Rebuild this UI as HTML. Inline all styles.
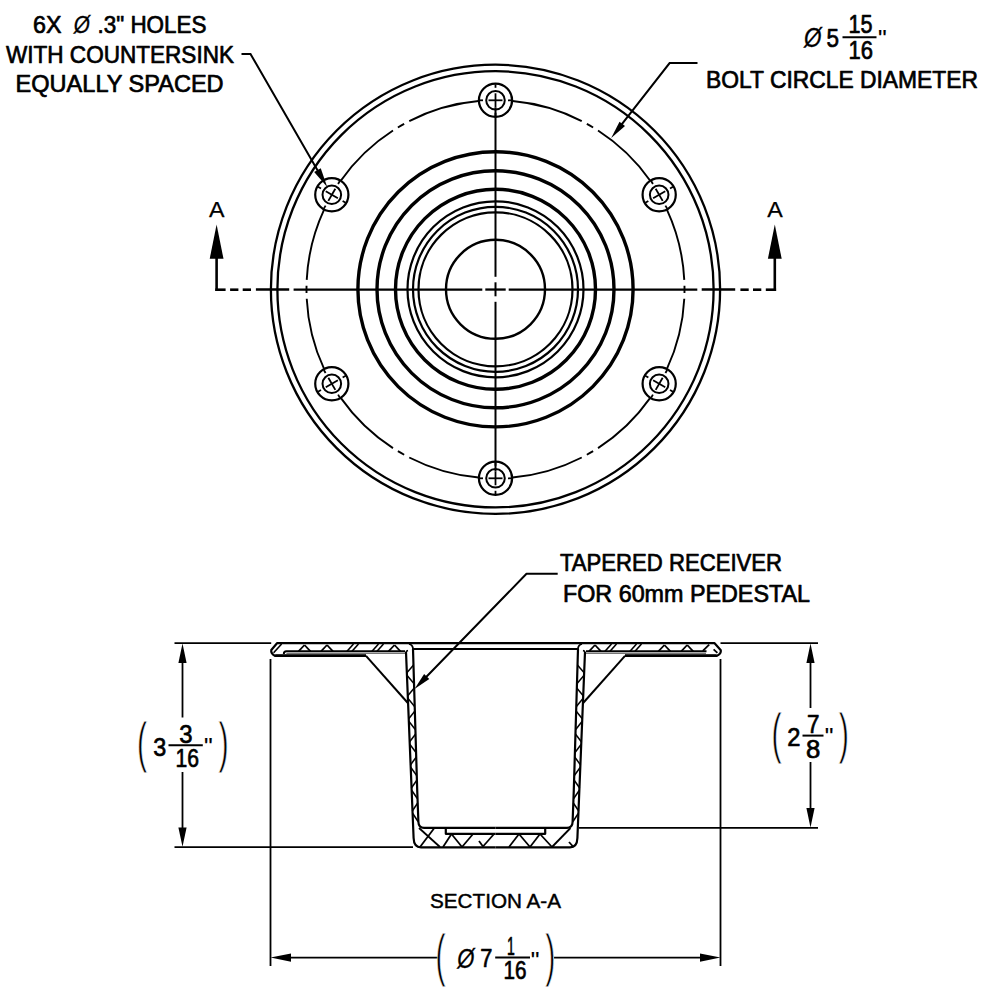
<!DOCTYPE html>
<html><head><meta charset="utf-8"><title>Section drawing</title>
<style>html,body{margin:0;padding:0;background:#fff}svg{display:block}text{font-family:"Liberation Sans",sans-serif}</style>
</head><body>
<svg width="1000" height="1000" viewBox="0 0 1000 1000">
<rect width="1000" height="1000" fill="#fff"/>
<g fill="none" stroke="#000">
<circle cx="495.50" cy="289.30" r="224.60" stroke-width="2.3" />
<circle cx="495.50" cy="289.30" r="218.10" stroke-width="2.3" />
<circle cx="495.50" cy="289.30" r="137.60" stroke-width="3.4" />
<circle cx="495.50" cy="289.30" r="118.50" stroke-width="3.4" />
<circle cx="495.50" cy="289.30" r="100.00" stroke-width="3.4" />
<circle cx="495.50" cy="289.30" r="88.00" stroke-width="2.2" />
<circle cx="495.50" cy="289.30" r="82.50" stroke-width="2.2" />
<circle cx="495.50" cy="289.30" r="77.00" stroke-width="2.2" />
<circle cx="495.50" cy="289.30" r="49.50" stroke-width="2.4" />
<path d="M650.03,180.48 A189,189 0 0 0 598.02,130.52" stroke-width="1.9" />
<path d="M593.12,127.47 A189,189 0 0 0 586.84,123.84" stroke-width="1.9" />
<path d="M581.74,121.12 A189,189 0 0 0 512.48,101.06" stroke-width="1.9" />
<path d="M478.52,101.06 A189,189 0 0 0 409.26,121.12" stroke-width="1.9" />
<path d="M404.16,123.84 A189,189 0 0 0 397.88,127.47" stroke-width="1.9" />
<path d="M392.98,130.52 A189,189 0 0 0 340.97,180.48" stroke-width="1.9" />
<path d="M323.99,209.88 A189,189 0 0 0 306.73,279.90" stroke-width="1.9" />
<path d="M306.53,285.67 A189,189 0 0 0 306.53,292.93" stroke-width="1.9" />
<path d="M306.73,298.70 A189,189 0 0 0 323.99,368.72" stroke-width="1.9" />
<path d="M340.97,398.12 A189,189 0 0 0 392.98,448.08" stroke-width="1.9" />
<path d="M397.88,451.13 A189,189 0 0 0 404.16,454.76" stroke-width="1.9" />
<path d="M409.26,457.48 A189,189 0 0 0 478.52,477.54" stroke-width="1.9" />
<path d="M512.48,477.54 A189,189 0 0 0 581.74,457.48" stroke-width="1.9" />
<path d="M586.84,454.76 A189,189 0 0 0 593.12,451.13" stroke-width="1.9" />
<path d="M598.02,448.08 A189,189 0 0 0 650.03,398.12" stroke-width="1.9" />
<path d="M667.01,368.72 A189,189 0 0 0 684.27,298.70" stroke-width="1.9" />
<path d="M684.47,292.93 A189,189 0 0 0 684.47,285.67" stroke-width="1.9" />
<path d="M684.27,279.90 A189,189 0 0 0 667.01,209.88" stroke-width="1.9" />
<circle cx="659.18" cy="194.80" r="16.60" stroke-width="2.2" />
<circle cx="659.18" cy="194.80" r="9.30" stroke-width="2.0" />
<line x1="653.12" y1="198.30" x2="665.24" y2="191.30" stroke-width="1.8" />
<line x1="670.00" y1="188.55" x2="673.04" y2="186.80" stroke-width="1.8" />
<line x1="648.35" y1="201.05" x2="645.32" y2="202.80" stroke-width="1.8" />
<line x1="655.68" y1="188.74" x2="662.68" y2="200.86" stroke-width="1.8" />
<line x1="665.43" y1="205.63" x2="667.18" y2="208.66" stroke-width="1.8" />
<line x1="652.93" y1="183.97" x2="651.18" y2="180.94" stroke-width="1.8" />
<circle cx="495.50" cy="100.30" r="16.60" stroke-width="2.2" />
<circle cx="495.50" cy="100.30" r="9.30" stroke-width="2.0" />
<line x1="495.50" y1="107.30" x2="495.50" y2="93.30" stroke-width="1.8" />
<line x1="495.50" y1="87.80" x2="495.50" y2="84.30" stroke-width="1.8" />
<line x1="495.50" y1="112.80" x2="495.50" y2="116.30" stroke-width="1.8" />
<line x1="488.50" y1="100.30" x2="502.50" y2="100.30" stroke-width="1.8" />
<line x1="508.00" y1="100.30" x2="511.50" y2="100.30" stroke-width="1.8" />
<line x1="483.00" y1="100.30" x2="479.50" y2="100.30" stroke-width="1.8" />
<circle cx="331.82" cy="194.80" r="16.60" stroke-width="2.2" />
<circle cx="331.82" cy="194.80" r="9.30" stroke-width="2.0" />
<line x1="337.88" y1="198.30" x2="325.76" y2="191.30" stroke-width="1.8" />
<line x1="321.00" y1="188.55" x2="317.96" y2="186.80" stroke-width="1.8" />
<line x1="342.65" y1="201.05" x2="345.68" y2="202.80" stroke-width="1.8" />
<line x1="328.32" y1="200.86" x2="335.32" y2="188.74" stroke-width="1.8" />
<line x1="338.07" y1="183.97" x2="339.82" y2="180.94" stroke-width="1.8" />
<line x1="325.57" y1="205.63" x2="323.82" y2="208.66" stroke-width="1.8" />
<circle cx="331.82" cy="383.80" r="16.60" stroke-width="2.2" />
<circle cx="331.82" cy="383.80" r="9.30" stroke-width="2.0" />
<line x1="337.88" y1="380.30" x2="325.76" y2="387.30" stroke-width="1.8" />
<line x1="321.00" y1="390.05" x2="317.96" y2="391.80" stroke-width="1.8" />
<line x1="342.65" y1="377.55" x2="345.68" y2="375.80" stroke-width="1.8" />
<line x1="335.32" y1="389.86" x2="328.32" y2="377.74" stroke-width="1.8" />
<line x1="325.57" y1="372.97" x2="323.82" y2="369.94" stroke-width="1.8" />
<line x1="338.07" y1="394.63" x2="339.82" y2="397.66" stroke-width="1.8" />
<circle cx="495.50" cy="478.30" r="16.60" stroke-width="2.2" />
<circle cx="495.50" cy="478.30" r="9.30" stroke-width="2.0" />
<line x1="495.50" y1="471.30" x2="495.50" y2="485.30" stroke-width="1.8" />
<line x1="495.50" y1="490.80" x2="495.50" y2="494.30" stroke-width="1.8" />
<line x1="495.50" y1="465.80" x2="495.50" y2="462.30" stroke-width="1.8" />
<line x1="502.50" y1="478.30" x2="488.50" y2="478.30" stroke-width="1.8" />
<line x1="483.00" y1="478.30" x2="479.50" y2="478.30" stroke-width="1.8" />
<line x1="508.00" y1="478.30" x2="511.50" y2="478.30" stroke-width="1.8" />
<circle cx="659.18" cy="383.80" r="16.60" stroke-width="2.2" />
<circle cx="659.18" cy="383.80" r="9.30" stroke-width="2.0" />
<line x1="653.12" y1="380.30" x2="665.24" y2="387.30" stroke-width="1.8" />
<line x1="670.00" y1="390.05" x2="673.04" y2="391.80" stroke-width="1.8" />
<line x1="648.35" y1="377.55" x2="645.32" y2="375.80" stroke-width="1.8" />
<line x1="662.68" y1="377.74" x2="655.68" y2="389.86" stroke-width="1.8" />
<line x1="652.93" y1="394.63" x2="651.18" y2="397.66" stroke-width="1.8" />
<line x1="665.43" y1="372.97" x2="667.18" y2="369.94" stroke-width="1.8" />
<line x1="255.90" y1="289.55" x2="289.20" y2="289.55" stroke-width="2.6" />
<line x1="293.60" y1="289.55" x2="482.30" y2="289.55" stroke-width="2.3" />
<line x1="485.30" y1="289.55" x2="505.70" y2="289.55" stroke-width="2.3" />
<line x1="508.70" y1="289.55" x2="697.30" y2="289.55" stroke-width="2.3" />
<line x1="701.70" y1="289.55" x2="735.20" y2="289.55" stroke-width="2.6" />
<line x1="495.50" y1="107.30" x2="495.50" y2="276.80" stroke-width="2.0" />
<line x1="495.50" y1="282.30" x2="495.50" y2="296.30" stroke-width="2.0" />
<line x1="495.50" y1="301.80" x2="495.50" y2="471.30" stroke-width="2.0" />
<line x1="216.60" y1="291.00" x2="216.60" y2="250.00" stroke-width="2.6" />
<line x1="215.30" y1="289.70" x2="225.60" y2="289.70" stroke-width="2.6" />
<line x1="230.10" y1="289.70" x2="238.40" y2="289.70" stroke-width="2.6" />
<line x1="242.70" y1="289.70" x2="251.00" y2="289.70" stroke-width="2.6" />
<polygon points="216.60,224.50 209.70,258.80 223.50,258.80" fill="#000" stroke="none" />
<line x1="774.80" y1="291.00" x2="774.80" y2="250.00" stroke-width="2.6" />
<line x1="776.10" y1="289.70" x2="765.80" y2="289.70" stroke-width="2.6" />
<line x1="761.30" y1="289.70" x2="753.00" y2="289.70" stroke-width="2.6" />
<line x1="748.70" y1="289.70" x2="740.40" y2="289.70" stroke-width="2.6" />
<polygon points="774.80,224.50 767.90,258.80 781.70,258.80" fill="#000" stroke="none" />
</g>
<g fill="none" stroke="#000">
<path d="M241.5,54 L250.5,54 L322.7,179.206" stroke-width="2.0" />
<polygon points="327.20,187.00 314.17,172.00 320.76,168.21" fill="#000" stroke="none" />
<path d="M697.5,63.1 L669.6,63.1 L616.60,130.98" stroke-width="2.0" />
<polygon points="611.20,138.00 619.51,121.65 625.03,125.96" fill="#000" stroke="none" />
</g>
<g fill="none" stroke="#000" stroke-linejoin="round">
<path d="M413,643.2 L277,643.2 L271.3,650 Q270.6,653.6 275.2,655.9 L366,655.9" stroke-width="2.2" />
<line x1="275.20" y1="655.60" x2="366.00" y2="655.60" stroke-width="2.9" />
<line x1="281.60" y1="644.00" x2="273.60" y2="652.80" stroke-width="1.6" />
<path d="M283.8,654 Q283.8,651.2 286.4,651.2 L405,651.2" stroke-width="1.9" />
<line x1="286.40" y1="653.40" x2="405.00" y2="653.40" stroke-width="1.2" stroke="#777"/>
<line x1="366.00" y1="655.80" x2="408.30" y2="703.50" stroke-width="2.0" />
<path d="M406.00,652 L413.60,838 Q413.90,847.3 421.00,847.3 L495.5,847.3" stroke-width="2.2" />
<path d="M413.00,649 L417.20,790 L418.40,822 Q418.60,827.8 424.00,827.8 L495.5,827.8" stroke-width="2.2" />
<path d="M406.00,652 Q406.30,651 408.00,650.5" stroke-width="1.6" />
<path d="M409.00,644 Q413.00,645 413.00,649" stroke-width="1.8" />
<path d="M445.80,827.8 L445.80,833.8 L495.5,833.8" stroke-width="2.2" />
<line x1="270.50" y1="659.00" x2="270.50" y2="966.00" stroke-width="1.8" />
<path d="M578,643.2 L714.6,643.2 L720.8,650.2 Q721.4,653.8 716.6,655.9 L625,655.9" stroke-width="2.2" />
<line x1="716.60" y1="655.60" x2="625.00" y2="655.60" stroke-width="2.9" />
<line x1="713.60" y1="649.40" x2="717.40" y2="652.80" stroke-width="1.8" />
<line x1="586.00" y1="651.20" x2="706.50" y2="651.20" stroke-width="1.9" />
<line x1="586.00" y1="653.40" x2="706.00" y2="653.40" stroke-width="1.2" stroke="#777"/>
<line x1="702.80" y1="650.80" x2="709.20" y2="644.60" stroke-width="1.8" />
<line x1="625.00" y1="655.80" x2="582.70" y2="703.50" stroke-width="2.0" />
<path d="M585.00,652 L577.40,838 Q577.10,847.3 570.00,847.3 L495.5,847.3" stroke-width="2.2" />
<path d="M578.00,649 L573.80,790 L572.60,822 Q572.40,827.8 567.00,827.8 L495.5,827.8" stroke-width="2.2" />
<path d="M585.00,652 Q584.70,651 583.00,650.5" stroke-width="1.6" />
<path d="M582.00,644 Q578.00,645 578.00,649" stroke-width="1.8" />
<path d="M545.20,827.8 L545.20,833.8 L495.5,833.8" stroke-width="2.2" />
<line x1="720.50" y1="659.00" x2="720.50" y2="966.00" stroke-width="1.8" />
<line x1="413.00" y1="643.20" x2="578.00" y2="643.20" stroke-width="2.2" />
<line x1="413.00" y1="649.00" x2="578.00" y2="649.00" stroke-width="2.0" />
<line x1="298.50" y1="651.30" x2="304.50" y2="645.00" stroke-width="1.8" />
<line x1="304.50" y1="645.00" x2="310.50" y2="651.30" stroke-width="1.8" />
<line x1="321.00" y1="651.30" x2="327.00" y2="645.00" stroke-width="1.8" />
<line x1="327.00" y1="645.00" x2="333.00" y2="651.30" stroke-width="1.8" />
<line x1="388.50" y1="651.30" x2="394.50" y2="645.00" stroke-width="1.8" />
<line x1="394.50" y1="645.00" x2="400.50" y2="651.30" stroke-width="1.8" />
<line x1="347.00" y1="651.30" x2="353.50" y2="644.00" stroke-width="1.6" />
<line x1="352.00" y1="651.30" x2="358.50" y2="644.00" stroke-width="1.6" />
<line x1="372.00" y1="651.30" x2="378.50" y2="644.00" stroke-width="1.6" />
<line x1="377.00" y1="651.30" x2="383.50" y2="644.00" stroke-width="1.6" />
<line x1="681.20" y1="651.30" x2="687.20" y2="645.00" stroke-width="1.8" />
<line x1="687.20" y1="645.00" x2="693.20" y2="651.30" stroke-width="1.8" />
<line x1="658.40" y1="651.30" x2="664.40" y2="645.00" stroke-width="1.8" />
<line x1="664.40" y1="645.00" x2="670.40" y2="651.30" stroke-width="1.8" />
<line x1="589.00" y1="651.30" x2="595.00" y2="645.00" stroke-width="1.8" />
<line x1="595.00" y1="645.00" x2="601.00" y2="651.30" stroke-width="1.8" />
<line x1="635.00" y1="651.30" x2="641.50" y2="644.00" stroke-width="1.6" />
<line x1="630.00" y1="651.30" x2="636.50" y2="644.00" stroke-width="1.6" />
<line x1="610.00" y1="651.30" x2="616.50" y2="644.00" stroke-width="1.6" />
<line x1="605.00" y1="651.30" x2="611.50" y2="644.00" stroke-width="1.6" />
<line x1="406.65" y1="673.00" x2="413.57" y2="665.00" stroke-width="1.5" />
<line x1="407.12" y1="675.50" x2="413.91" y2="683.50" stroke-width="1.5" />
<line x1="407.59" y1="696.00" x2="414.25" y2="688.00" stroke-width="1.5" />
<line x1="408.06" y1="698.50" x2="414.59" y2="706.50" stroke-width="1.5" />
<line x1="408.53" y1="719.00" x2="414.94" y2="711.00" stroke-width="1.5" />
<line x1="409.00" y1="721.50" x2="415.28" y2="729.50" stroke-width="1.5" />
<line x1="409.47" y1="742.00" x2="415.62" y2="734.00" stroke-width="1.5" />
<line x1="409.94" y1="744.50" x2="415.96" y2="752.50" stroke-width="1.5" />
<line x1="410.41" y1="765.00" x2="416.31" y2="757.00" stroke-width="1.5" />
<line x1="410.88" y1="767.50" x2="416.65" y2="775.50" stroke-width="1.5" />
<line x1="411.35" y1="788.00" x2="416.99" y2="780.00" stroke-width="1.5" />
<line x1="411.82" y1="790.50" x2="417.33" y2="798.50" stroke-width="1.5" />
<line x1="412.29" y1="811.00" x2="417.68" y2="803.00" stroke-width="1.5" />
<line x1="412.76" y1="813.50" x2="418.02" y2="821.50" stroke-width="1.5" />
<line x1="584.35" y1="673.00" x2="577.43" y2="665.00" stroke-width="1.5" />
<line x1="583.88" y1="675.50" x2="577.09" y2="683.50" stroke-width="1.5" />
<line x1="583.41" y1="696.00" x2="576.75" y2="688.00" stroke-width="1.5" />
<line x1="582.94" y1="698.50" x2="576.41" y2="706.50" stroke-width="1.5" />
<line x1="582.47" y1="719.00" x2="576.06" y2="711.00" stroke-width="1.5" />
<line x1="582.00" y1="721.50" x2="575.72" y2="729.50" stroke-width="1.5" />
<line x1="581.53" y1="742.00" x2="575.38" y2="734.00" stroke-width="1.5" />
<line x1="581.06" y1="744.50" x2="575.04" y2="752.50" stroke-width="1.5" />
<line x1="580.59" y1="765.00" x2="574.69" y2="757.00" stroke-width="1.5" />
<line x1="580.12" y1="767.50" x2="574.35" y2="775.50" stroke-width="1.5" />
<line x1="579.65" y1="788.00" x2="574.01" y2="780.00" stroke-width="1.5" />
<line x1="579.18" y1="790.50" x2="573.67" y2="798.50" stroke-width="1.5" />
<line x1="578.71" y1="811.00" x2="573.32" y2="803.00" stroke-width="1.5" />
<line x1="578.24" y1="813.50" x2="572.98" y2="821.50" stroke-width="1.5" />
<line x1="419.00" y1="828.00" x2="440.00" y2="847.00" stroke-width="1.8" />
<line x1="420.00" y1="847.00" x2="434.00" y2="828.50" stroke-width="1.8" />
<line x1="443.00" y1="847.00" x2="451.50" y2="834.00" stroke-width="1.8" />
<line x1="451.50" y1="834.00" x2="462.00" y2="847.00" stroke-width="1.8" />
<line x1="462.00" y1="847.00" x2="473.00" y2="834.00" stroke-width="1.8" />
<line x1="479.00" y1="841.00" x2="483.00" y2="846.50" stroke-width="1.8" />
<line x1="483.00" y1="846.50" x2="494.00" y2="834.00" stroke-width="1.8" />
<line x1="509.00" y1="847.00" x2="519.00" y2="834.00" stroke-width="1.8" />
<line x1="519.00" y1="834.00" x2="530.00" y2="847.00" stroke-width="1.8" />
<line x1="530.00" y1="847.00" x2="540.00" y2="834.00" stroke-width="1.8" />
<line x1="540.00" y1="834.00" x2="552.00" y2="847.00" stroke-width="1.8" />
<line x1="552.00" y1="847.00" x2="570.50" y2="828.00" stroke-width="1.8" />
<line x1="569.00" y1="842.00" x2="573.00" y2="846.50" stroke-width="1.8" />
<line x1="174.50" y1="643.20" x2="271.20" y2="643.20" stroke-width="1.8" />
<line x1="174.50" y1="847.20" x2="413.00" y2="847.20" stroke-width="1.8" />
<line x1="182.50" y1="650.00" x2="182.50" y2="717.50" stroke-width="1.8" />
<line x1="182.50" y1="772.00" x2="182.50" y2="840.00" stroke-width="1.8" />
<line x1="720.50" y1="643.20" x2="818.00" y2="643.20" stroke-width="1.8" />
<line x1="579.00" y1="827.80" x2="818.00" y2="827.80" stroke-width="1.8" />
<line x1="810.50" y1="650.00" x2="810.50" y2="708.00" stroke-width="1.8" />
<line x1="810.50" y1="762.00" x2="810.50" y2="820.00" stroke-width="1.8" />
<line x1="285.00" y1="957.60" x2="438.00" y2="957.60" stroke-width="1.8" />
<line x1="554.00" y1="957.60" x2="706.00" y2="957.60" stroke-width="1.8" />
<line x1="168.50" y1="745.20" x2="202.80" y2="745.20" stroke-width="2.0" />
<line x1="802.50" y1="735.60" x2="823.50" y2="735.60" stroke-width="2.0" />
<line x1="495.20" y1="957.60" x2="530.00" y2="957.60" stroke-width="2.0" />
<line x1="842.50" y1="37.30" x2="876.50" y2="37.30" stroke-width="2.1" />
<path d="M557.7,573.8 L526.5,573.8 L420.10,683.28" stroke-width="2.0" />
</g>
<g stroke="none" fill="#000">
</g>
<polygon points="182.50,643.60 186.60,662.90 178.40,662.90" fill="#000" stroke="none" />
<polygon points="182.50,846.80 178.40,827.50 186.60,827.50" fill="#000" stroke="none" />
<polygon points="810.50,643.60 814.60,662.90 806.40,662.90" fill="#000" stroke="none" />
<polygon points="810.50,827.40 806.40,808.10 814.60,808.10" fill="#000" stroke="none" />
<polygon points="270.50,957.60 291.00,953.40 291.00,961.80" fill="#000" stroke="none" />
<polygon points="720.50,957.60 700.00,961.80 700.00,953.40" fill="#000" stroke="none" />
<polygon points="414.50,689.00 424.12,673.94 429.28,678.96" fill="#000" stroke="none" />
<g fill="#000" stroke="#000" stroke-width="0.7" stroke-linejoin="round">
<text x="33" y="33.3" font-size="24" text-anchor="start" textLength="28.5" lengthAdjust="spacingAndGlyphs" >6X</text>
<text x="97.5" y="33.3" font-size="24" text-anchor="start" textLength="109" lengthAdjust="spacingAndGlyphs" >.3" HOLES</text>
<text x="6" y="63.3" font-size="24" text-anchor="start" textLength="228" lengthAdjust="spacingAndGlyphs" >WITH COUNTERSINK</text>
<text x="15.6" y="92" font-size="24" text-anchor="start" textLength="208" lengthAdjust="spacingAndGlyphs" >EQUALLY SPACED</text>
<text x="706" y="88" font-size="24" text-anchor="start" textLength="272" lengthAdjust="spacingAndGlyphs" >BOLT CIRCLE DIAMETER</text>
<text x="560" y="571.3" font-size="24" text-anchor="start" textLength="222" lengthAdjust="spacingAndGlyphs" >TAPERED RECEIVER</text>
<text x="563" y="601.6" font-size="24" text-anchor="start" textLength="247" lengthAdjust="spacingAndGlyphs" >FOR 60mm PEDESTAL</text>
<text x="430" y="908.2" font-size="21" text-anchor="start" textLength="131" lengthAdjust="spacingAndGlyphs" stroke-width="0.45">SECTION A-A</text>
<text x="209" y="217" font-size="21.5" text-anchor="start" textLength="15.5" lengthAdjust="spacingAndGlyphs" stroke-width="0.25">A</text>
<text x="767.2" y="217" font-size="21.5" text-anchor="start" textLength="15.5" lengthAdjust="spacingAndGlyphs" stroke-width="0.25">A</text>
<text x="826.5" y="47" font-size="26" text-anchor="start" textLength="12.5" lengthAdjust="spacingAndGlyphs" >5</text>
<text x="848.5" y="33.4" font-size="25.5" text-anchor="start" textLength="24" lengthAdjust="spacingAndGlyphs" >15</text>
<text x="848.5" y="58.6" font-size="25.5" text-anchor="start" textLength="24.5" lengthAdjust="spacingAndGlyphs" >16</text>
<text x="153.3" y="756" font-size="26" text-anchor="start" textLength="13" lengthAdjust="spacingAndGlyphs" >3</text>
<text x="179.3" y="742.6" font-size="25.5" text-anchor="start" textLength="13.3" lengthAdjust="spacingAndGlyphs" >3</text>
<text x="175.5" y="766.8" font-size="25.5" text-anchor="start" textLength="23.5" lengthAdjust="spacingAndGlyphs" >16</text>
<text x="787.3" y="746" font-size="26" text-anchor="start" textLength="13.2" lengthAdjust="spacingAndGlyphs" >2</text>
<text x="807" y="732.5" font-size="25.5" text-anchor="start" textLength="12.5" lengthAdjust="spacingAndGlyphs" >7</text>
<text x="806" y="757.5" font-size="25.5" text-anchor="start" textLength="14.3" lengthAdjust="spacingAndGlyphs" >8</text>
<text x="480.3" y="967" font-size="26" text-anchor="start" textLength="12.2" lengthAdjust="spacingAndGlyphs" >7</text>
<text x="507" y="955" font-size="25.5" text-anchor="start" textLength="7.8" lengthAdjust="spacingAndGlyphs" >1</text>
<text x="503.5" y="979" font-size="25.5" text-anchor="start" textLength="23" lengthAdjust="spacingAndGlyphs" >16</text>
</g>
<text transform="translate(73.74,32.55) scale(0.9,1.04)" font-size="23" font-style="italic" fill="#000" stroke="#000" stroke-width="0.3">Ø</text>
<text transform="translate(804.02,47.29) scale(0.9,1.1)" font-size="25" font-style="italic" fill="#000" stroke="#000" stroke-width="0.3">Ø</text>
<text transform="translate(457.30,967.60) scale(0.9,1.1)" font-size="24.5" font-style="italic" fill="#000" stroke="#000" stroke-width="0.3">Ø</text>
<text x="877.96" y="47.24" font-size="24.5" fill="#000" stroke="#000" stroke-width="0.15">&quot;</text>
<text x="203.96" y="755.04" font-size="24.5" fill="#000" stroke="#000" stroke-width="0.15">&quot;</text>
<text x="824.86" y="745.04" font-size="24.5" fill="#000" stroke="#000" stroke-width="0.15">&quot;</text>
<text x="530.76" y="968.64" font-size="24.5" fill="#000" stroke="#000" stroke-width="0.15">&quot;</text>
<text transform="translate(136.89,761.32) scale(1.22,2.252)" font-size="25" fill="#000" stroke="#fff" stroke-width="0.7" vector-effect="non-scaling-stroke">(</text>
<text transform="translate(218.57,761.32) scale(1.22,2.252)" font-size="25" fill="#000" stroke="#fff" stroke-width="0.7" vector-effect="non-scaling-stroke">)</text>
<text transform="translate(771.39,751.93) scale(1.22,2.231)" font-size="25" fill="#000" stroke="#fff" stroke-width="0.7" vector-effect="non-scaling-stroke">(</text>
<text transform="translate(838.77,751.93) scale(1.22,2.231)" font-size="25" fill="#000" stroke="#fff" stroke-width="0.7" vector-effect="non-scaling-stroke">)</text>
<text transform="translate(435.59,974.71) scale(1.22,2.273)" font-size="25" fill="#000" stroke="#fff" stroke-width="0.7" vector-effect="non-scaling-stroke">(</text>
<text transform="translate(545.27,974.71) scale(1.22,2.273)" font-size="25" fill="#000" stroke="#fff" stroke-width="0.7" vector-effect="non-scaling-stroke">)</text>
</svg>
</body></html>
